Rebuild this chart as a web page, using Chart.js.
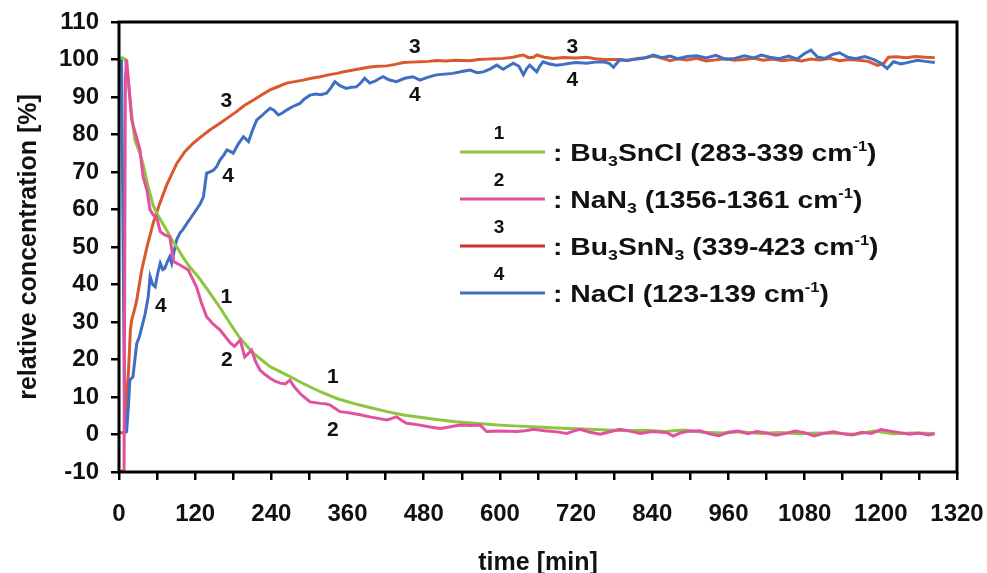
<!DOCTYPE html>
<html>
<head>
<meta charset="utf-8">
<script src="https://cdn.jsdelivr.net/npm/chart.js@4.4.0/dist/chart.umd.min.js"></script>
<style>
  html, body { margin: 0; padding: 0; background: #fff; }
</style>
</head>
<body>
<canvas id="myChart" width="987" height="573"></canvas>
<script>
// time [min] and relative concentration [%]
const tBu3SnCl = [0, 5, 10, 13, 20, 25, 33, 38, 46, 54, 61, 68, 75, 83, 91, 100, 110, 125, 140, 160, 175, 191, 212, 238, 264, 290, 317, 343, 369, 395, 422, 448, 474, 500, 530, 560, 590, 620, 650, 680, 710, 740, 770, 800, 830, 860, 890, 920, 950, 980, 1010, 1040, 1070, 1100, 1130, 1160, 1190, 1220, 1250, 1285];
const vBu3SnCl = [100, 100.5, 100, 97, 85, 78.5, 75, 72, 66, 61, 58.5, 56.5, 54.5, 52, 50, 47.5, 45, 42, 38.5, 33.6, 29.6, 25.6, 21.6, 18.1, 15.9, 13.6, 11.4, 9.6, 8.3, 7.2, 6.1, 5.2, 4.6, 4.0, 3.4, 3.0, 2.6, 2.3, 2.1, 1.8, 1.6, 1.4, 1.2, 1.0, 1.1, 0.8, 1.2, 0.6, 0.4, 0.7, 0.3, 0.5, 0.2, 0.4, 0.3, 0.1, 0.9, 0.2, 0.4, 0.3];

const tNaN3 = [0, 8, 10, 12, 20, 23, 28, 33, 38, 44, 49, 54, 59, 65, 72, 80, 86, 96, 109, 122, 130, 138, 148, 159, 168, 175, 182, 186, 191, 198, 203, 209, 215, 222, 230, 238, 246, 254, 262, 269, 277, 285, 293, 301, 309, 317, 325, 332, 340, 348, 358, 369, 382, 395, 408, 422, 430, 437, 445, 453, 463, 474, 490, 506, 520, 537, 553, 569, 579, 600, 626, 640, 653, 670, 690, 705, 716, 726, 742, 758, 775, 789, 805, 821, 840, 855, 863, 873, 884, 894, 915, 930, 945, 960, 975, 990, 1005, 1020, 1035, 1050, 1065, 1080, 1095, 1110, 1125, 1140, 1155, 1170, 1185, 1200, 1215, 1230, 1245, 1260, 1275, 1285];
const vNaN3 = [-10, -9.5, 95, 100, 84, 82, 79, 75.9, 68.7, 65.2, 59.9, 58.5, 58.1, 54.1, 53.2, 52.7, 46.1, 45.2, 43.9, 39.4, 35, 31.4, 29.5, 27.9, 26, 24.5, 23.5, 24.3, 25.2, 20.7, 21.5, 22.5, 19.5, 17.2, 16, 15, 14.2, 13.7, 13.5, 14.5, 12.5, 11, 9.8, 8.7, 8.5, 8.3, 8.2, 7.9, 7.0, 6.1, 5.9, 5.6, 5.2, 4.7, 4.3, 3.9, 4.3, 4.7, 3.8, 3.0, 2.8, 2.5, 2.0, 1.6, 2.0, 2.5, 2.4, 2.5, 0.8, 0.9, 0.8, 1.0, 1.4, 1.0, 0.7, 0.3, 0.9, 1.4, 0.6, 0.1, 0.8, 1.4, 0.9, 0.3, 0.8, 0.6, 0.5, -0.4, 0.4, 0.8, 1.0, 0.2, -0.3, 0.6, 0.9, 0.2, 0.8, 0.4, -0.2, 0.3, 0.9, 0.5, -0.4, 0.3, 0.7, 0.2, -0.1, 0.6, 0.3, 1.3, 0.9, 0.5, 0.1, 0.4, -0.1, 0.2];

const tBu3SnN3 = [0, 9, 12, 15, 18, 20, 24, 28, 32, 36, 44, 54, 64, 75, 91, 104, 117, 130, 143, 159, 170, 185, 198, 212, 225, 238, 251, 264, 277, 290, 303, 317, 330, 343, 356, 369, 382, 395, 408, 422, 435, 448, 461, 474, 487, 500, 515, 530, 553, 566, 579, 592, 605, 621, 630, 637, 645, 653, 658, 670, 684, 700, 720, 737, 750, 765, 789, 800, 816, 830, 842, 855, 868, 880, 895, 910, 925, 940, 955, 970, 985, 1000, 1015, 1030, 1045, 1060, 1075, 1090, 1105, 1120, 1135, 1150, 1165, 1180, 1195, 1205, 1212, 1225, 1240, 1255, 1270, 1285];
const vBu3SnN3 = [0.5, 0.5, 10, 17, 28, 30.5, 33, 35.9, 40, 44, 50, 56.5, 61.5, 66.5, 72.3, 75.5, 77.7, 79.5, 81.2, 83, 84.3, 86.1, 87.8, 89.2, 90.6, 91.9, 92.8, 93.7, 94.1, 94.5, 95, 95.4, 95.9, 96.3, 96.8, 97.2, 97.6, 98.0, 98.2, 98.3, 98.7, 99.2, 99.3, 99.4, 99.5, 99.7, 99.6, 99.8, 99.7, 100.0, 100.1, 100.2, 100.3, 100.6, 101.0, 101.2, 100.5, 100.6, 101.2, 100.6, 100.3, 100.5, 100.4, 100.6, 100.2, 100.0, 100.0, 99.7, 100.3, 100.5, 100.9, 100.4, 99.7, 100.2, 99.9, 100.3, 99.6, 99.9, 100.2, 99.8, 100.0, 100.3, 99.8, 100.1, 99.7, 100.0, 99.6, 100.1, 99.9, 100.3, 99.7, 100.0, 99.8, 99.5, 98.4, 99.0, 100.6, 100.7, 100.5, 100.8, 100.6, 100.5];

const tNaCl = [0, 4, 9, 12, 15, 17, 22, 25, 28, 32, 36, 41, 46, 49, 53, 57, 61, 65, 69, 72, 76, 80, 83, 87, 91, 96, 100, 107, 114, 122, 128, 133, 138, 143, 149, 154, 159, 165, 170, 175, 180, 188, 196, 204, 210, 217, 225, 231, 238, 244, 251, 258, 264, 271, 278, 285, 292, 301, 310, 318, 327, 334, 340, 348, 358, 366, 374, 381, 387, 395, 403, 411, 416, 425, 437, 450, 463, 474, 487, 500, 513, 526, 540, 553, 564, 574, 585, 595, 605, 613, 621, 630, 637, 642, 647, 653, 658, 663, 668, 678, 689, 700, 710, 720, 737, 750, 763, 772, 779, 784, 789, 800, 816, 828, 842, 855, 868, 880, 895, 910, 925, 940, 955, 970, 985, 1000, 1012, 1025, 1040, 1055, 1068, 1080, 1090, 1100, 1112, 1125, 1135, 1148, 1160, 1175, 1190, 1200, 1210, 1220, 1232, 1245, 1258, 1270, 1285];
const vNaCl = [100, 100, 0.5, 0.8, 8, 14.5, 15.4, 20, 24.3, 26, 28.7, 32, 36.7, 42.1, 40, 39.4, 43, 45.7, 44, 44.3, 46, 47.4, 45.7, 49, 52, 53.7, 54.5, 56.3, 58, 60, 61.5, 63.4, 69.7, 70, 70.5, 71.5, 73.2, 74.5, 75.9, 75.5, 75, 77.5, 79.4, 78.1, 81, 83.9, 85, 86, 87, 86.5, 85.2, 85.8, 86.5, 87.2, 87.8, 88.3, 89.5, 90.5, 90.8, 90.6, 91, 92.5, 94.1, 93, 92.3, 92.6, 92.7, 93.8, 95, 93.7, 94.2, 95, 95.4, 94.6, 94.1, 95, 95.4, 94.5, 95.3, 95.9, 96.1, 96.3, 96.8, 97.2, 96.5, 96.7, 97.5, 98.5, 97.4, 98.2, 99, 98.2, 95.9, 97.5, 98.5, 97.5, 96.7, 98.3, 99.4, 98.8, 98.5, 98.7, 99, 99.2, 99, 99.3, 99.4, 99.0, 97.9, 99, 99.9, 99.8, 100.1, 100.4, 101.2, 100.5, 100.9, 100.2, 100.8, 101.0, 100.4, 101.1, 100.1, 100.3, 101.0, 100.4, 101.2, 100.6, 100.2, 100.9, 100.1, 101.6, 102.5, 100.7, 100.3, 101.4, 101.8, 100.6, 100.2, 100.8, 99.9, 99.0, 97.6, 99.4, 98.8, 99.3, 99.8, 99.5, 99.2];

const seriesNums = ['1', '2', '3', '4'];
const seriesColors = ['#8cc63f', '#e2509e', '#dc582c', '#3f6fc3'];
const legendColors = ['#8cc63f', '#e2509e', '#c8372d', '#3f6fc3'];
// legend text pieces: [text, 'sub' | 'sup' | '']
const legendTexts = [
    [[': Bu', ''], ['3', 'sub'], ['SnCl (283-339 cm', ''], ['-1', 'sup'], [')', '']],
    [[': NaN', ''], ['3', 'sub'], [' (1356-1361 cm', ''], ['-1', 'sup'], [')', '']],
    [[': Bu', ''], ['3', 'sub'], ['SnN', ''], ['3', 'sub'], [' (339-423 cm', ''], ['-1', 'sup'], [')', '']],
    [[': NaCl (123-139 cm', ''], ['-1', 'sup'], [')', '']]
];
// number labels next to the curves (time, value)
const curveLabels = [
    ['3', 169, 89], ['3', 466, 103.3], ['3', 714, 103.3],
    ['4', 172, 69], ['4', 66, 34.3], ['4', 466, 90.5], ['4', 714, 94.5],
    ['1', 169, 36.7], ['1', 337, 15.3],
    ['2', 170, 19.9], ['2', 337, 1.2]
];

const FONT = '"Liberation Sans", Arial, sans-serif';

const toPoints = (ts, vs) => ts.map((t, i) => ({ x: t, y: vs[i] }));

const makeSet = (label, ts, vs, color, order) => ({
    label: label,
    data: toPoints(ts, vs),
    borderColor: color,
    backgroundColor: color,
    borderWidth: 3,
    pointRadius: 0,
    tension: 0,
    order: order
});

const frameAndLabels = {
    id: 'frameAndLabels',
    afterDatasetsDraw(chart) {
        const ctx = chart.ctx;
        const a = chart.chartArea;
        const xs = chart.scales.x, ys = chart.scales.y;
        ctx.save();
        ctx.strokeStyle = '#000';
        ctx.lineWidth = 3;
        ctx.strokeRect(a.left, a.top, a.right - a.left, a.bottom - a.top);

        ctx.fillStyle = '#111';
        ctx.font = 'bold 21px ' + FONT;
        ctx.textAlign = 'center';
        ctx.textBaseline = 'middle';
        curveLabels.forEach(l => {
            ctx.fillText(l[0], xs.getPixelForValue(l[1]), ys.getPixelForValue(l[2]));
        });

        // legend
        for (let i = 0; i < 4; i++) {
            const y = 152 + i * 47;
            ctx.strokeStyle = legendColors[i];
            ctx.lineWidth = 3;
            ctx.beginPath();
            ctx.moveTo(460, y);
            ctx.lineTo(545, y);
            ctx.stroke();
            ctx.fillStyle = '#111';
            ctx.font = 'bold 19px ' + FONT;
            ctx.textAlign = 'center';
            ctx.textBaseline = 'middle';
            ctx.fillText(seriesNums[i], 499, y - 18);

            ctx.save();
            ctx.translate(553, y);
            ctx.scale(1.18, 1);
            ctx.textAlign = 'left';
            ctx.textBaseline = 'alphabetic';
            let x = 0;
            legendTexts[i].forEach(p => {
                let dy = 9;
                if (p[1] === 'sub') { ctx.font = 'bold 15px ' + FONT; dy = 14; }
                else if (p[1] === 'sup') { ctx.font = 'bold 14px ' + FONT; dy = -1; }
                else ctx.font = 'bold 24px ' + FONT;
                ctx.fillText(p[0], x, dy);
                x += ctx.measureText(p[0]).width;
            });
            ctx.restore();
        }
        ctx.restore();
    }
};

const tickFont = { family: FONT, size: 24, weight: 'bold' };

const config = {
    type: 'line',
    data: {
        datasets: [
            makeSet('Bu3SnCl', tBu3SnCl, vBu3SnCl, seriesColors[0], 1),
            makeSet('NaN3', tNaN3, vNaN3, seriesColors[1], 0),
            makeSet('Bu3SnN3', tBu3SnN3, vBu3SnN3, seriesColors[2], 3),
            makeSet('NaCl', tNaCl, vNaCl, seriesColors[3], 2)
        ]
    },
    options: {
        responsive: false,
        animation: false,
        layout: { padding: { left: 0, right: 30, top: 22, bottom: 0 } },
        plugins: { legend: { display: false }, tooltip: { enabled: false } },
        scales: {
            x: {
                type: 'linear',
                min: 0,
                max: 1320,
                afterFit: s => { s.height = 101; s.paddingLeft = 0; s.paddingRight = 0; },
                border: { display: false },
                grid: { drawOnChartArea: false, drawTicks: true, tickLength: 8, color: '#000', lineWidth: 2.5 },
                ticks: {
                    stepSize: 60,
                    autoSkip: false,
                    maxRotation: 0,
                    padding: 20,
                    color: '#111',
                    font: tickFont,
                    callback: v => (v % 120 === 0 ? v : '')
                },
                title: {
                    display: true,
                    text: 'time [min]',
                    color: '#111',
                    font: { family: FONT, size: 25, weight: 'bold', lineHeight: 0.8 },
                    padding: { top: 0, bottom: 0 }
                }
            },
            y: {
                min: -10,
                max: 110,
                afterFit: s => { s.width = 119; s.paddingTop = 0; s.paddingBottom = 0; },
                border: { display: false },
                grid: { drawOnChartArea: false, drawTicks: true, tickLength: 8, color: '#000', lineWidth: 2.5 },
                ticks: { stepSize: 10, padding: 12, color: '#111', font: tickFont },
                title: {
                    display: true,
                    text: 'relative concentration [%]',
                    color: '#111',
                    font: { family: FONT, size: 25, weight: 'bold', lineHeight: 1.2 },
                    padding: { top: 14, bottom: 0 }
                }
            }
        }
    },
    plugins: [frameAndLabels]
};

const myChart = new Chart(document.getElementById('myChart'), config);
</script>
</body>
</html>
